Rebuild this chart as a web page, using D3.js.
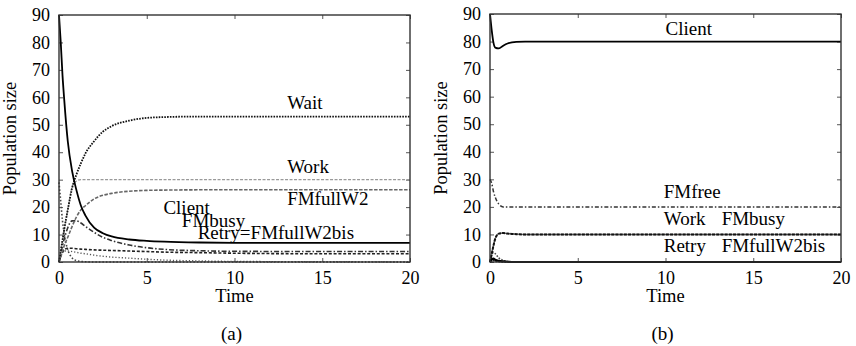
<!DOCTYPE html>
<html>
<head>
<meta charset="utf-8">
<script src="https://cdnjs.cloudflare.com/ajax/libs/d3/7.8.5/d3.min.js"></script>
<style>
  html, body { margin: 0; padding: 0; background: #fff; }
  svg { display: block; }
  text { font-family: "Liberation Serif", "Times New Roman", serif; fill: #000; }
</style>
</head>
<body>
<svg id="chart" width="856" height="346"></svg>
<script>
// Sample times shared by every series
const time = [0, 0.1, 0.2, 0.3, 0.5, 0.75, 1, 1.25, 1.5, 2, 2.5, 3, 4, 5, 6, 8, 10, 15, 20];

// Panel (a)
const clientA    = [90, 80, 68, 59, 44, 33, 26, 20.5, 17, 12.5, 10.5, 9.3, 8.2, 7.7, 7.4, 7.1, 7, 7, 7];
const waitA      = [0, 4, 8, 12, 19, 27, 32, 36, 39.5, 44, 47.5, 49.5, 51.5, 52.5, 52.8, 53, 53, 53, 53];
const workA      = [0, 4, 8, 12, 19, 27.5, 29.5, 30, 30, 30, 30, 30, 30, 30, 30, 30, 30, 30, 30];
const fmFullW2A  = [0, 2, 4, 6, 9, 13, 16.5, 19, 20.5, 23, 24.3, 25, 25.8, 26.1, 26.2, 26.3, 26.3, 26.3, 26.3];
const fmBusyA    = [0, 3, 6, 8.5, 12.5, 15, 15, 14.2, 13, 10.8, 9, 7.8, 6.2, 5.2, 4.6, 4.1, 3.9, 3.8, 3.8];
const retryA     = [0, 2, 3.5, 4.5, 5, 5, 4.8, 4.7, 4.6, 4.4, 4.3, 4.2, 4, 3.8, 3.6, 3.4, 3.2, 3, 3];
const fmFreeA    = [29, 22, 15, 10, 4.5, 1.5, 0.5, 0.2, 0.1, 0, 0, 0, 0, 0, 0, 0, 0, 0, 0];
const fmFullW1A  = [0, 2, 3.5, 4, 4, 3.8, 3.5, 3.2, 3, 2.5, 2.1, 1.8, 1.4, 1, 0.7, 0.4, 0.2, 0.1, 0];

// Panel (b)
const clientB    = [90, 84, 79.5, 77.8, 77.5, 78.5, 79.3, 79.7, 79.9, 80, 80, 80, 80, 80, 80, 80, 80, 80, 80];
const fmFreeB    = [30, 28.5, 25.5, 23.5, 21, 20, 20, 20, 20, 20, 20, 20, 20, 20, 20, 20, 20, 20, 20];
const workB      = [0, 3, 6, 8.5, 10.3, 10.5, 10.3, 10.2, 10.1, 10, 10, 10, 10, 10, 10, 10, 10, 10, 10];
const fmBusyB    = [0, 3, 6, 8.5, 10.3, 10.5, 10.3, 10.2, 10.1, 10, 10, 10, 10, 10, 10, 10, 10, 10, 10];
const retryB     = [0, 2.5, 3.5, 3, 1.5, 0.6, 0.2, 0.1, 0, 0, 0, 0, 0, 0, 0, 0, 0, 0, 0];
const waitB      = [0, 1, 1.2, 0.8, 0.4, 0.2, 0.1, 0, 0, 0, 0, 0, 0, 0, 0, 0, 0, 0, 0];
const fmFullW2B  = [0, 0.5, 0.6, 0.4, 0.2, 0.1, 0, 0, 0, 0, 0, 0, 0, 0, 0, 0, 0, 0, 0];

const xTicks = [0, 5, 10, 15, 20];
const yTicks = [0, 10, 20, 30, 40, 50, 60, 70, 80, 90];

// Line styles (panel-specific overrides below)
const stylesA = {
  client:   { stroke: "#000", width: 1.8, dash: null },
  wait:     { stroke: "#111", width: 1.8, dash: "1.6,1.2" },
  work:     { stroke: "#999", width: 1.3, dash: "3,1.5" },
  fmFullW2: { stroke: "#666", width: 1.6, dash: "3.5,1.5" },
  fmBusy:   { stroke: "#333", width: 1.6, dash: "5,2,1.5,2" },
  retry:    { stroke: "#222", width: 1.6, dash: "3,1.8" },
  fmFree:   { stroke: "#444", width: 1.6, dash: "1.5,2" },
  fmFullW1: { stroke: "#555", width: 1.4, dash: "1.2,2" }
};
const stylesB = {
  client:   { stroke: "#000", width: 1.8, dash: null },
  wait:     { stroke: "#000", width: 2.2, dash: null },
  fmFullW2: { stroke: "#222", width: 2.0, dash: "2,1" },
  retry:    { stroke: "#444", width: 1.5, dash: "1.5,1.5" },
  fmFree:   { stroke: "#333", width: 1.5, dash: "4,2,1.5,2" },
  fmBusy:   { stroke: "#666", width: 1.4, dash: null },
  work:     { stroke: "#111", width: 2.0, dash: "3,1.2" }
};

const panels = [
  {
    left: 59, right: 410, top: 15, bottom: 262, caption: "(a)", styles: stylesA,
    series: [
      ["fmFree", fmFreeA], ["fmFullW1", fmFullW1A], ["retry", retryA], ["fmBusy", fmBusyA],
      ["fmFullW2", fmFullW2A], ["work", workA], ["wait", waitA], ["client", clientA]
    ],
    labels: [
      { text: "Wait", t: 13.0, v: 55.8 },
      { text: "Work", t: 13.0, v: 32.4 },
      { text: "FMfullW2", t: 13.0, v: 20.8 },
      { text: "Client", t: 5.95, v: 17.6 },
      { text: "FMbusy", t: 7.0, v: 12.9 },
      { text: "Retry=FMfullW2bis", t: 7.9, v: 8.5 }
    ]
  },
  {
    left: 490, right: 841, top: 14, bottom: 262, caption: "(b)", styles: stylesB,
    series: [
      ["retry", retryB], ["fmFree", fmFreeB], ["fmBusy", fmBusyB], ["work", workB],
      ["fmFullW2", fmFullW2B], ["wait", waitB], ["client", clientB]
    ],
    labels: [
      { text: "Client", t: 10.0, v: 82.5 },
      { text: "FMfree", t: 9.9, v: 23.3 },
      { text: "Work", t: 9.9, v: 13.5 },
      { text: "FMbusy", t: 13.2, v: 13.5 },
      { text: "Retry", t: 9.9, v: 3.7 },
      { text: "FMfullW2bis", t: 13.2, v: 3.7 }
    ]
  }
];

const svg = d3.select("#chart");

panels.forEach(p => {
  const x = d3.scaleLinear().domain([0, 20]).range([p.left, p.right]);
  const y = d3.scaleLinear().domain([0, 90]).range([p.bottom, p.top]);
  const g = svg.append("g");

  // Inward ticks on all four sides
  const tickLen = 4;
  const axisStyle = sel => {
    sel.select(".domain").remove();
    sel.selectAll(".tick line").attr("stroke", "#555").attr("stroke-width", 1);
    sel.selectAll(".tick text")
      .style("font-family", "'Liberation Serif', 'Times New Roman', serif")
      .style("font-size", "18px").attr("fill", "#000");
  };
  g.append("g").attr("transform", `translate(0,${p.bottom})`)
    .call(d3.axisBottom(x).tickValues(xTicks).tickSize(-tickLen).tickPadding(9).tickFormat(d3.format("d")))
    .call(axisStyle);
  g.append("g").attr("transform", `translate(${p.left},0)`)
    .call(d3.axisLeft(y).tickValues(yTicks).tickSize(-tickLen).tickPadding(9).tickFormat(d3.format("d")))
    .call(axisStyle);
  g.append("g").attr("transform", `translate(0,${p.top})`)
    .call(d3.axisTop(x).tickValues(xTicks).tickSize(-tickLen).tickFormat(""))
    .call(axisStyle);
  g.append("g").attr("transform", `translate(${p.right},0)`)
    .call(d3.axisRight(y).tickValues(yTicks).tickSize(-tickLen).tickFormat(""))
    .call(axisStyle);

  // Curves
  const line = d3.line()
    .x((d, i) => x(time[i]))
    .y(d => y(d))
    .curve(d3.curveMonotoneX);

  p.series.forEach(([key, vals]) => {
    const s = p.styles[key];
    g.append("path")
      .datum(vals)
      .attr("d", line)
      .attr("fill", "none")
      .attr("stroke", s.stroke)
      .attr("stroke-width", s.width)
      .attr("stroke-dasharray", s.dash)
      .attr("stroke-linejoin", "round");
  });

  // Frame
  g.append("rect")
    .attr("x", p.left).attr("y", p.top)
    .attr("width", p.right - p.left).attr("height", p.bottom - p.top)
    .attr("fill", "none").attr("stroke", "#333").attr("stroke-width", 1.4);

  // Curve labels
  p.labels.forEach(l => {
    g.append("text")
      .attr("x", x(l.t)).attr("y", y(l.v))
      .style("font-size", "19px")
      .text(l.text);
  });

  // Axis titles
  const cx = (p.left + p.right) / 2;
  g.append("text")
    .attr("x", cx).attr("y", 302)
    .attr("text-anchor", "middle")
    .style("font-size", "18.5px")
    .text("Time");
  g.append("text")
    .attr("transform", `translate(${p.left - 43},${(p.top + p.bottom) / 2}) rotate(-90)`)
    .attr("text-anchor", "middle")
    .style("font-size", "18.5px")
    .text("Population size");

  // Sub-figure caption
  g.append("text")
    .attr("x", cx - 3).attr("y", 340)
    .attr("text-anchor", "middle")
    .style("font-size", "19px")
    .text(p.caption);
});
</script>
</body>
</html>
